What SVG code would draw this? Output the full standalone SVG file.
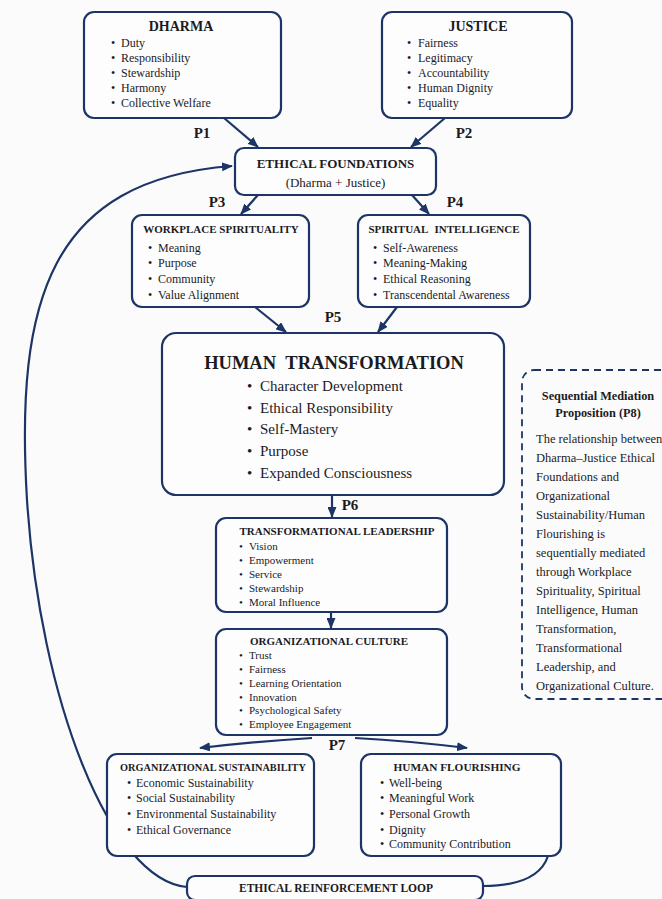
<svg xmlns="http://www.w3.org/2000/svg" width="662" height="899" viewBox="0 0 662 899">
<style>
text{font-family:"Liberation Serif","Times New Roman",serif;fill:#1b1b1f}
.box{fill:#fdfdfe;stroke:#1c3566;stroke-width:2.2}
.dash{fill:none;stroke:#1c3566;stroke-width:1.8;stroke-dasharray:7 5}
.t{font-weight:bold;text-anchor:middle}
.c{fill:none;stroke:#1c3566;stroke-width:2.2}
.p{font-weight:bold;font-size:15px;text-anchor:middle}
.i12{font-size:12px}
.i11{font-size:11px}
.i15{font-size:15px}
.sb{font-size:12.5px}
</style>
<defs>
<marker id="ah" markerUnits="userSpaceOnUse" markerWidth="11" markerHeight="9" refX="10" refY="4.5" orient="auto">
<path d="M0,0 L11,4.5 L0,9 z" fill="#1c3566"/>
</marker>
</defs>
<rect width="662" height="899" fill="#fbfbfc"/>

<g id="connectors">
<line class="c" x1="224" y1="118" x2="258" y2="147" marker-end="url(#ah)"/>
<line class="c" x1="445" y1="118" x2="411" y2="147" marker-end="url(#ah)"/>
<line class="c" x1="258" y1="195" x2="241" y2="214" marker-end="url(#ah)"/>
<line class="c" x1="412" y1="195" x2="429" y2="214" marker-end="url(#ah)"/>
<line class="c" x1="255" y1="307" x2="286" y2="332" marker-end="url(#ah)"/>
<line class="c" x1="397" y1="307" x2="378" y2="332" marker-end="url(#ah)"/>
<line class="c" x1="332" y1="495" x2="332" y2="517" marker-end="url(#ah)"/>
<line class="c" x1="331" y1="612" x2="331" y2="628" marker-end="url(#ah)"/>
<path class="c" d="M312,738 Q260,741 200,748" marker-end="url(#ah)"/>
<path class="c" d="M355,738 Q410,741 467,748" marker-end="url(#ah)"/>
<path class="c" d="M548,856 C540,880 510,886 483,886"/>
<path class="c" d="M187,887 C110,880 40,700 27,500 C15,300 50,180 232,166" marker-end="url(#ah)"/>
<text class="p" x="202" y="138">P1</text>
<text class="p" x="464" y="138">P2</text>
<text class="p" x="217" y="207">P3</text>
<text class="p" x="455" y="207">P4</text>
<text class="p" x="333" y="322">P5</text>
<text class="p" x="350" y="510">P6</text>
<text class="p" x="337" y="750">P7</text>
</g>

<g id="dharma">
<rect class="box" x="84" y="12" width="197" height="106" rx="10"/>
<text class="t" x="181" y="31" font-size="14">DHARMA</text>
<g class="i12">
<text x="111" y="47">•</text><text x="121" y="47">Duty</text>
<text x="111" y="62">•</text><text x="121" y="62">Responsibility</text>
<text x="111" y="77">•</text><text x="121" y="77">Stewardship</text>
<text x="111" y="92">•</text><text x="121" y="92">Harmony</text>
<text x="111" y="107">•</text><text x="121" y="107">Collective Welfare</text>
</g>
</g>

<g id="justice">
<rect class="box" x="382" y="12" width="190" height="106" rx="10"/>
<text class="t" x="478" y="31" font-size="14">JUSTICE</text>
<g class="i12">
<text x="407" y="47">•</text><text x="418" y="47">Fairness</text>
<text x="407" y="62">•</text><text x="418" y="62">Legitimacy</text>
<text x="407" y="77">•</text><text x="418" y="77">Accountability</text>
<text x="407" y="92">•</text><text x="418" y="92">Human Dignity</text>
<text x="407" y="107">•</text><text x="418" y="107">Equality</text>
</g>
</g>

<g id="ethical-foundations">
<rect class="box" x="235" y="148" width="201" height="47" rx="9"/>
<text class="t" x="335.5" y="168" font-size="13">ETHICAL FOUNDATIONS</text>
<text x="335.5" y="187" font-size="13" text-anchor="middle">(Dharma + Justice)</text>
</g>

<g id="workplace-spirituality">
<rect class="box" x="132" y="215" width="177" height="92" rx="10"/>
<text class="t" x="221" y="233" font-size="11">WORKPLACE SPIRITUALITY</text>
<g class="i12">
<text x="148" y="252">•</text><text x="158" y="252">Meaning</text>
<text x="148" y="267">•</text><text x="158" y="267">Purpose</text>
<text x="148" y="283">•</text><text x="158" y="283">Community</text>
<text x="148" y="299">•</text><text x="158" y="299">Value Alignment</text>
</g>
</g>

<g id="spiritual-intelligence">
<rect class="box" x="358" y="215" width="172" height="92" rx="10"/>
<text class="t" x="444" y="233" font-size="11" word-spacing="4">SPIRITUAL INTELLIGENCE</text>
<g class="i12">
<text x="373" y="252">•</text><text x="383" y="252">Self-Awareness</text>
<text x="373" y="267">•</text><text x="383" y="267">Meaning-Making</text>
<text x="373" y="283">•</text><text x="383" y="283">Ethical Reasoning</text>
<text x="373" y="299">•</text><text x="383" y="299">Transcendental Awareness</text>
</g>
</g>

<g id="human-transformation">
<rect class="box" x="162" y="333" width="342" height="162" rx="14"/>
<text class="t" x="334" y="369" font-size="18.5" word-spacing="5">HUMAN TRANSFORMATION</text>
<g class="i15">
<text x="247" y="391">•</text><text x="260" y="391">Character Development</text>
<text x="247" y="413">•</text><text x="260" y="413">Ethical Responsibility</text>
<text x="247" y="434">•</text><text x="260" y="434">Self-Mastery</text>
<text x="247" y="456">•</text><text x="260" y="456">Purpose</text>
<text x="247" y="478">•</text><text x="260" y="478">Expanded Consciousness</text>
</g>
</g>

<g id="transformational-leadership">
<rect class="box" x="216" y="518" width="231" height="94" rx="10"/>
<text class="t" x="337" y="535" font-size="11">TRANSFORMATIONAL LEADERSHIP</text>
<g class="i11">
<text x="239" y="550">•</text><text x="249" y="550">Vision</text>
<text x="239" y="564">•</text><text x="249" y="564">Empowerment</text>
<text x="239" y="578">•</text><text x="249" y="578">Service</text>
<text x="239" y="592">•</text><text x="249" y="592">Stewardship</text>
<text x="239" y="606">•</text><text x="249" y="606">Moral Influence</text>
</g>
</g>

<g id="organizational-culture">
<rect class="box" x="216" y="629" width="231" height="106" rx="10"/>
<text class="t" x="329" y="645" font-size="11">ORGANIZATIONAL CULTURE</text>
<g class="i11">
<text x="239" y="659">•</text><text x="249" y="659">Trust</text>
<text x="239" y="673">•</text><text x="249" y="673">Fairness</text>
<text x="239" y="687">•</text><text x="249" y="687">Learning Orientation</text>
<text x="239" y="701">•</text><text x="249" y="701">Innovation</text>
<text x="239" y="714">•</text><text x="249" y="714">Psychological Safety</text>
<text x="239" y="728">•</text><text x="249" y="728">Employee Engagement</text>
</g>
</g>

<g id="organizational-sustainability">
<rect class="box" x="107" y="754" width="207" height="102" rx="10"/>
<text class="t" x="213" y="771" font-size="10.3">ORGANIZATIONAL SUSTAINABILITY</text>
<g class="i12">
<text x="127" y="787">•</text><text x="136" y="787">Economic Sustainability</text>
<text x="127" y="802">•</text><text x="136" y="802">Social Sustainability</text>
<text x="127" y="818">•</text><text x="136" y="818">Environmental Sustainability</text>
<text x="127" y="834">•</text><text x="136" y="834">Ethical Governance</text>
</g>
</g>

<g id="human-flourishing">
<rect class="box" x="361" y="754" width="200" height="102" rx="10"/>
<text class="t" x="457" y="771" font-size="11.3">HUMAN FLOURISHING</text>
<g class="i12">
<text x="380" y="787">•</text><text x="389" y="787">Well-being</text>
<text x="380" y="802">•</text><text x="389" y="802">Meaningful Work</text>
<text x="380" y="818">•</text><text x="389" y="818">Personal Growth</text>
<text x="380" y="834">•</text><text x="389" y="834">Dignity</text>
<text x="380" y="848">•</text><text x="389" y="848">Community Contribution</text>
</g>
</g>

<g id="ethical-reinforcement-loop">
<rect class="box" x="187" y="876" width="296" height="24" rx="8"/>
<text class="t" x="336" y="892" font-size="11.5">ETHICAL REINFORCEMENT LOOP</text>
</g>

<g id="sequential-mediation">
<rect class="dash" x="522" y="370" width="175" height="329" rx="12"/>
<text class="t" x="598" y="400" font-size="12.3">Sequential Mediation</text>
<text class="t" x="598" y="417" font-size="12.3">Proposition (P8)</text>
<g class="sb">
<text x="536" y="443">The relationship between</text>
<text x="536" y="462">Dharma–Justice Ethical</text>
<text x="536" y="481">Foundations and</text>
<text x="536" y="500">Organizational</text>
<text x="536" y="519">Sustainability/Human</text>
<text x="536" y="538">Flourishing is</text>
<text x="536" y="557">sequentially mediated</text>
<text x="536" y="576">through Workplace</text>
<text x="536" y="595">Spirituality, Spiritual</text>
<text x="536" y="614">Intelligence, Human</text>
<text x="536" y="633">Transformation,</text>
<text x="536" y="652">Transformational</text>
<text x="536" y="671">Leadership, and</text>
<text x="536" y="690">Organizational Culture.</text>
</g>
</g>
</svg>
